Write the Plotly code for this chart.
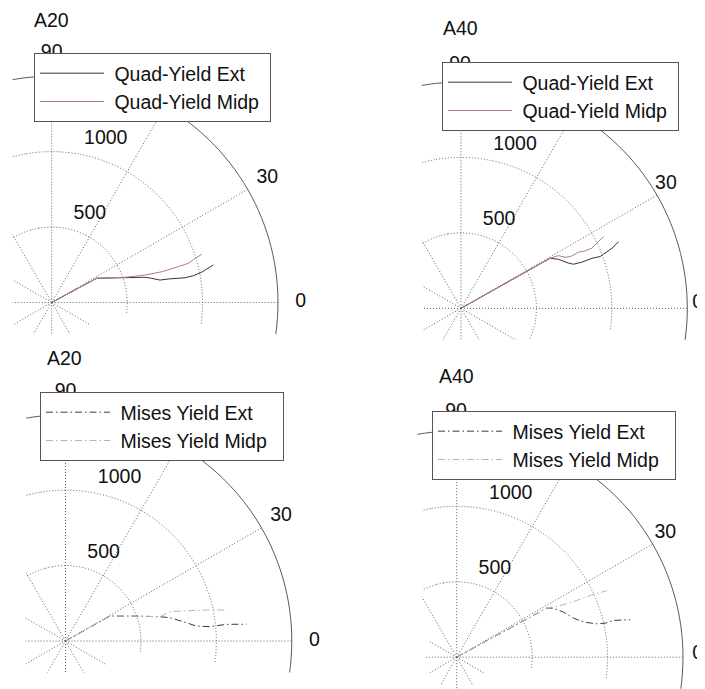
import math
import plotly.graph_objects as go

# ------------------------------------------------------------------ data
panel_titles = ["A20", "A40", "A20", "A40"]
angle_tick_vals = [0, 30, 90]
angle_tick_text = ["0", "30", "90"]
rho_tick_vals = [500, 1000]
rho_max = 1500
series_names = [
    ("Quad-Yield Ext", "Quad-Yield Midp"),
    ("Quad-Yield Ext", "Quad-Yield Midp"),
    ("Mises Yield Ext", "Mises Yield Midp"),
    ("Mises Yield Ext", "Mises Yield Midp"),
]

# top-left  (A20, quadratic yield)
a20_quad_ext_r = [0, 339, 513, 641, 682, 733, 789, 899, 955, 1014, 1100]
a20_quad_ext_theta = [28.3, 28.3, 18.7, 15.1, 13.6, 11.7, 11.4, 10.5, 10.7, 11.4, 13.1]
a20_quad_midp_r = [0, 339, 514, 645, 757, 872, 942, 994, 1045]
a20_quad_midp_theta = [28.3, 28.3, 19.0, 16.4, 15.6, 15.8, 16.0, 17.1, 17.8]

# top-right (A40, quadratic yield)
a40_quad_ext_r = [0, 678, 723, 773, 801, 858, 929, 985, 1011, 1077, 1134]
a40_quad_ext_theta = [29.3, 29.3, 26.7, 22.8, 21.4, 20.9, 20.9, 20.4, 20.8, 21.7, 22.9]
a40_quad_midp_r = [0, 678, 734, 769, 801, 863, 907, 955, 1013, 1058]
a40_quad_midp_theta = [29.3, 29.3, 28.4, 26.1, 25.3, 25.5, 24.8, 24.7, 25.9, 26.7]

# bottom-left (A20, Mises yield)
a20_mises_ext_r = [0, 338, 500, 646, 709, 790, 874, 961, 1006, 1073, 1205]
a20_mises_ext_theta = [29.3, 29.3, 19.3, 14.4, 12.6, 9.3, 6.5, 5.7, 5.8, 5.9, 5.3]
a20_mises_midp_r = [0, 338, 500, 646, 719, 827, 957, 1076]
a20_mises_midp_theta = [29.3, 29.3, 19.3, 14.4, 15.7, 14.0, 12.4, 11.0]

# bottom-right (A40, Mises yield)
a40_mises_ext_r = [0, 680, 719, 768, 816, 872, 955, 1010, 1067, 1177]
a40_mises_ext_theta = [28.6, 28.6, 26.9, 22.9, 18.5, 15.5, 13.4, 12.9, 13.2, 12.2]
a40_mises_midp_r = [0, 680, 766, 880, 974, 1089]
a40_mises_midp_theta = [28.6, 28.6, 26.5, 25.3, 24.8, 23.9]

series_data = [
    ((a20_quad_ext_r, a20_quad_ext_theta), (a20_quad_midp_r, a20_quad_midp_theta)),
    ((a40_quad_ext_r, a40_quad_ext_theta), (a40_quad_midp_r, a40_quad_midp_theta)),
    ((a20_mises_ext_r, a20_mises_ext_theta), (a20_mises_midp_r, a20_mises_midp_theta)),
    ((a40_mises_ext_r, a40_mises_ext_theta), (a40_mises_midp_r, a40_mises_midp_theta)),
]

# ------------------------------------------------------------------ layout / style
OFF = 8                      # page body margin of the browser
W, H = 705 - OFF, 689 - OFF  # figure fills the visible window
PX_PER_UNIT = 226.3 / rho_max
MAIN_RANGE = 1510            # a hair beyond the outer circle so it is not clipped
LABEL_RANGE = 1700           # room for the angle labels at 1.1 * rmax
FONT = "Liberation Sans, Arial, sans-serif"
FS = 19.5
GRID = "#5e5e5e"
GRID_DASH = "1px,2px"
OUTER = "#5a5a5a"

# per panel (reference pixel coords): origin, crop left/bottom, helper radii (px),
# legend corner, legend right padding, title
panels = [
    dict(ox=51.7, oy=302.5, crop_l=12.5, crop_b=333.9, ra1=158, ra2=80, rb=43,
         leg=(34, 53), pad=1, title=(32, 20)),
    dict(ox=461.0, oy=308.3, crop_l=422.0, crop_b=339.7, ra1=160, ra2=80, rb=80,
         leg=(442, 62), pad=1, title=(441, 28)),
    dict(ox=65.5, oy=641.0, crop_l=25.5, crop_b=672.5, ra1=160, ra2=80, rb=47,
         leg=(40, 392), pad=2, title=(45, 358)),
    dict(ox=456.7, oy=657.2, crop_l=422.0, crop_b=689.5, ra1=160, ra2=80, rb=31,
         leg=(432, 411), pad=2, title=(437, 376)),
]

DASHDOT = "7px,3px,1.5px,3px"
line_styles = [
    (dict(color="#34343f", width=1), dict(color="#b27a8e", width=1)),
    (dict(color="#34343f", width=1), dict(color="#b27a8e", width=1)),
    (dict(color="#3a3a3a", width=1, dash=DASHDOT), dict(color="#cda8b0", width=1, dash=DASHDOT)),
    (dict(color="#3a3a3a", width=1, dash=DASHDOT), dict(color="#cda8b0", width=1, dash=DASHDOT)),
]

MAIN_SECTOR = [-8, 100]
SECTOR_A1 = [100, 106]
SECTOR_A2 = [106, 122]
SECTOR_B = [122, 352]
outer_theta = list(range(-10, 112, 2))


def sector_bbox(sector):
    """Same bounding-box rule plotly uses to fit a polar sector into its domain."""
    s0, s1 = sector
    a0 = s0 % 360
    a1 = a0 + (s1 - s0)
    ax0, ay0 = math.cos(math.radians(a0)), math.sin(math.radians(a0))
    ax1, ay1 = math.cos(math.radians(a1)), math.sin(math.radians(a1))
    if (a0 <= 90 and a1 >= 90) or (a0 > 90 and a1 >= 450):
        y1 = 1
    elif ay0 <= 0 and ay1 <= 0:
        y1 = 0
    else:
        y1 = max(ay0, ay1)
    if (a0 <= 180 and a1 >= 180) or (a0 > 180 and a1 >= 540):
        x0 = -1
    elif ax0 >= 0 and ax1 >= 0:
        x0 = 0
    else:
        x0 = min(ax0, ax1)
    if (a0 <= 270 and a1 >= 270) or (a0 > 270 and a1 >= 630):
        y0 = -1
    elif ay0 >= 0 and ay1 >= 0:
        y0 = 0
    else:
        y0 = min(ay0, ay1)
    if a1 >= 360:
        x1 = 1
    elif ax0 <= 0 and ax1 <= 0:
        x1 = 0
    else:
        x1 = max(ax0, ax1)
    return x0, y0, x1, y1


def clamp(v):
    return min(1.0, max(0.0, v))


def polar_layout(ox, oy, rmax_units, sector, grid=True):
    rpx = rmax_units * PX_PER_UNIT
    bx0, by0, bx1, by1 = sector_bbox(sector)
    xl, xr = ox + bx0 * rpx, ox + bx1 * rpx
    yt, yb = oy - by1 * rpx, oy - by0 * rpx
    return dict(
        domain=dict(x=[clamp(xl / W), clamp(xr / W)], y=[clamp(1 - yb / H), clamp(1 - yt / H)]),
        sector=sector,
        bgcolor="rgba(0,0,0,0)",
        radialaxis=dict(range=[0, rmax_units], tickmode="array", tickvals=rho_tick_vals,
                        showticklabels=False, ticks="", showline=False,
                        showgrid=grid, gridcolor=GRID, gridwidth=1, griddash=GRID_DASH),
        angularaxis=dict(tickmode="linear", tick0=0, dtick=30, showticklabels=False, ticks="",
                         showline=False,
                         showgrid=grid, gridcolor=GRID, gridwidth=1, griddash=GRID_DASH),
    )


fig = go.Figure()
layout = dict(width=W, height=H, autosize=False, margin=dict(l=0, r=0, t=0, b=0),
              paper_bgcolor="white", plot_bgcolor="white", template="none",
              showlegend=True, font=dict(family=FONT, size=FS, color="#111"))
shapes = []
annotations = []

for i, p in enumerate(panels):
    ox, oy = p["ox"] - OFF, p["oy"] - OFF
    crop_l, crop_b = p["crop_l"] - OFF, p["crop_b"] - OFF
    n0 = 5 * i
    ids = ["polar" if i == 0 else f"polar{n0 + 1}"] + [f"polar{n0 + k}" for k in (2, 3, 4, 5)]
    main_id, a1_id, a2_id, b_id, lab_id = ids
    layout[main_id] = polar_layout(ox, oy, MAIN_RANGE, MAIN_SECTOR)
    layout[a1_id] = polar_layout(ox, oy, p["ra1"] / PX_PER_UNIT, SECTOR_A1)
    layout[a2_id] = polar_layout(ox, oy, p["ra2"] / PX_PER_UNIT, SECTOR_A2)
    layout[b_id] = polar_layout(ox, oy, p["rb"] / PX_PER_UNIT, SECTOR_B)
    lo = -math.degrees(math.asin(min(1.0, (crop_b - oy) / (LABEL_RANGE * PX_PER_UNIT))))
    layout[lab_id] = polar_layout(ox, oy, LABEL_RANGE, [lo, 95], grid=False)
    leg_id = "legend" if i == 0 else f"legend{i + 1}"

    # helper subplots need a trace to be drawn
    for sid in (a1_id, a2_id, b_id, lab_id):
        fig.add_trace(go.Scatterpolar(r=[0], theta=[0], subplot=sid, mode="markers",
                                      marker=dict(size=1, opacity=0), showlegend=False,
                                      hoverinfo="skip"))

    # outer (rmax) circle, solid
    fig.add_trace(go.Scatterpolar(r=[rho_max] * len(outer_theta), theta=outer_theta, subplot=main_id,
                                  mode="lines", line=dict(color=OUTER, width=1),
                                  showlegend=False, hoverinfo="skip"))

    # data series
    for (r, th), name, style in zip(series_data[i], series_names[i], line_styles[i]):
        fig.add_trace(go.Scatterpolar(r=r, theta=th, subplot=main_id, mode="lines",
                                      name="\u00a0" + name + "\u00a0" * p["pad"],
                                      line=style, legend=leg_id))

    # angle labels (MATLAB style: centred at 1.1 * rmax)
    fig.add_trace(go.Scatterpolar(r=[1.1 * rho_max] * len(angle_tick_vals), theta=angle_tick_vals,
                                  text=angle_tick_text, mode="text", subplot=lab_id,
                                  textposition="middle center", cliponaxis=False,
                                  textfont=dict(family=FONT, size=FS, color="#111"),
                                  showlegend=False, hoverinfo="skip"))
    # rho labels at 82 degrees
    rinc = rho_tick_vals[0]
    fig.add_trace(go.Scatterpolar(r=[v + rinc / 20 for v in rho_tick_vals], theta=[82] * len(rho_tick_vals),
                                  text=["\u00a0\u00a0" + str(v) for v in rho_tick_vals], mode="text",
                                  subplot=main_id, textposition="top right", cliponaxis=False,
                                  textfont=dict(family=FONT, size=FS, color="#111"),
                                  showlegend=False, hoverinfo="skip"))

    # legend box
    lx, ly = p["leg"]
    layout[leg_id] = dict(x=(lx - OFF) / W, y=1 - (ly - OFF) / H, xanchor="left", yanchor="top",
                          bgcolor="white", bordercolor="#555", borderwidth=1,
                          font=dict(family=FONT, size=FS, color="#111"),
                          itemwidth=64, tracegroupgap=0)

    # title
    tx, ty = p["title"]
    annotations.append(dict(text=panel_titles[i], x=(tx - OFF) / W, y=1 - (ty - OFF) / H,
                            xref="paper", yref="paper", xanchor="left", yanchor="middle",
                            showarrow=False, font=dict(family=FONT, size=FS, color="#111")))

    # crop masks (the reference panels are clipped rectangles)
    ext = max(p["ra2"], p["rb"]) + 4
    shapes.append(dict(type="rect", xref="paper", yref="paper", layer="above",
                       x0=(crop_l - 60) / W, x1=crop_l / W,
                       y0=1 - (oy + ext) / H, y1=1 - (oy - p["ra1"] - 4) / H,
                       fillcolor="white", line=dict(width=0)))
    shapes.append(dict(type="rect", xref="paper", yref="paper", layer="above",
                       x0=(ox - ext) / W, x1=(ox + ext) / W,
                       y0=1 - (oy + p["rb"] + 4) / H, y1=1 - crop_b / H,
                       fillcolor="white", line=dict(width=0)))

layout["shapes"] = shapes
layout["annotations"] = annotations
fig.update_layout(**layout)
fig.write_html("out.html")
